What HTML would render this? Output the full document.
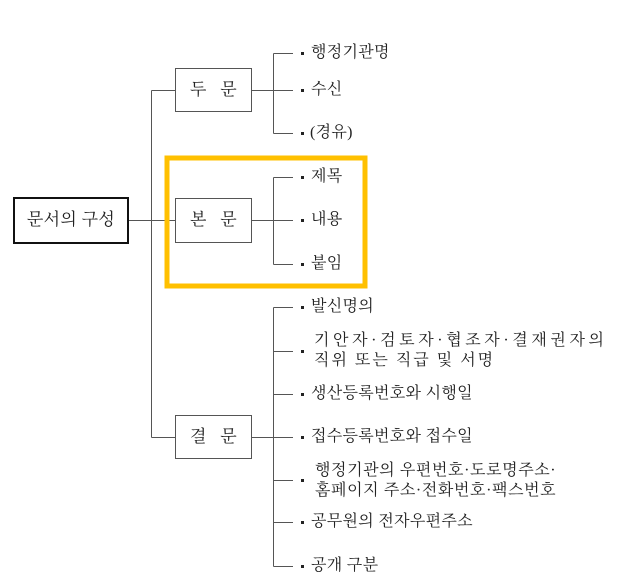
<!DOCTYPE html>
<html><head><meta charset="utf-8"><style>
body{margin:0;width:618px;height:581px;background:#fff;position:relative;overflow:hidden;font-family:"Liberation Serif","Noto Serif CJK SC",serif;color:#222}
.a{position:absolute}
.t{position:absolute;font-size:16px;line-height:20px;white-space:nowrap;letter-spacing:0.3px}
.b{position:absolute;width:3px;height:3px;background:#222}
</style></head><body>
<svg class="a" style="left:0;top:0" width="618" height="581">
<g stroke="#555" stroke-width="1" fill="none">
<path d="M128.5 220.5H175M151.5 90.5V437.5M151.5 90.5H175M151.5 437.5H175"/>
<path d="M251 90.5H273.5M273.5 53.5V133.5M273.5 53.5H293M273.5 90.5H293M273.5 133.5H293"/>
<path d="M251 220.5H273.5M273.5 177.5V264.5M273.5 177.5H293M273.5 220.5H293M273.5 264.5H293"/>
<path d="M251 437.5H273.5M273.5 307.5V566.5M273.5 307.5H293M273.5 351.5H293M273.5 394.5H293M273.5 437.5H293M273.5 480.5H293M273.5 522.5H293M273.5 566.5H293"/>
<rect x="175.5" y="68.5" width="76" height="43"/>
<rect x="175.5" y="198.5" width="76" height="44"/>
<rect x="175.5" y="415.5" width="76" height="43"/>
</g>
<rect x="14" y="198" width="114" height="45" fill="none" stroke="#111" stroke-width="2"/>
<rect x="167" y="158" width="198" height="128" fill="none" stroke="#FFC000" stroke-width="5"/>
</svg>
<div class="t" style="left:13px;top:210px;width:116px;text-align:center;font-size:17px">문서의 구성</div>
<div class="t" style="left:175px;top:80px;width:77px;text-align:center;font-size:17px">두&nbsp;&nbsp;&nbsp;문</div>
<div class="t" style="left:175px;top:210px;width:77px;text-align:center;font-size:17px">본&nbsp;&nbsp;&nbsp;문</div>
<div class="t" style="left:175px;top:427px;width:77px;text-align:center;font-size:17px">결&nbsp;&nbsp;&nbsp;문</div>

<div class="b" style="left:301px;top:52px"></div><div class="t" style="left:311px;top:43px">행정기관명</div>
<div class="b" style="left:301px;top:89px"></div><div class="t" style="left:311px;top:80px">수신</div>
<div class="b" style="left:301px;top:132px"></div><div class="t" style="left:310px;top:123px">(경유)</div>
<div class="b" style="left:301px;top:176px"></div><div class="t" style="left:311px;top:167px">제목</div>
<div class="b" style="left:301px;top:219px"></div><div class="t" style="left:311px;top:210px">내용</div>
<div class="b" style="left:301px;top:263px"></div><div class="t" style="left:311px;top:254px">붙임</div>

<div class="b" style="left:301px;top:306px"></div><div class="t" style="left:311px;top:297px">발신명의</div>
<div class="b" style="left:301px;top:350px"></div><div class="t" style="left:314px;top:331px;letter-spacing:3.6px">기안자·검토자·협조자·결재권자의</div><div class="t" style="left:314px;top:351px;letter-spacing:2px">직위 또는 직급 및 서명</div>
<div class="b" style="left:301px;top:393px"></div><div class="t" style="left:311px;top:384px">생산등록번호와 시행일</div>
<div class="b" style="left:301px;top:436px"></div><div class="t" style="left:311px;top:427px">접수등록번호와 접수일</div>
<div class="b" style="left:301px;top:479px"></div><div class="t" style="left:315px;top:461px;letter-spacing:0.6px">행정기관의 우편번호·도로명주소·</div><div class="t" style="left:315px;top:481px;letter-spacing:0.6px">홈페이지 주소·전화번호·팩스번호</div>
<div class="b" style="left:301px;top:521px"></div><div class="t" style="left:311px;top:512px">공무원의 전자우편주소</div>
<div class="b" style="left:301px;top:565px"></div><div class="t" style="left:311px;top:556px">공개 구분</div>
</body></html>
